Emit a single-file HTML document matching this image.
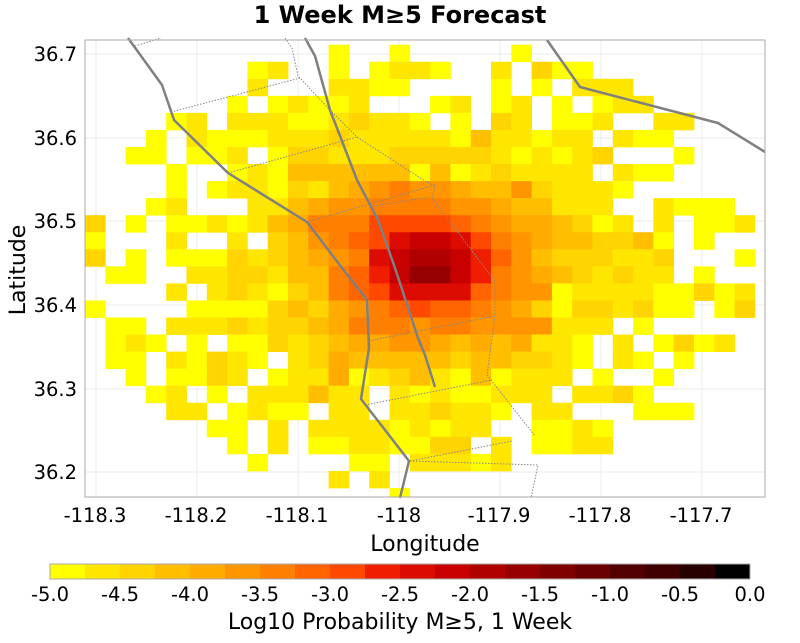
<!DOCTYPE html>
<html><head><meta charset="utf-8"><style>
html,body{margin:0;padding:0;background:#fff;}
svg{display:block;font-family:"DejaVu Sans","Liberation Sans",sans-serif;}
</style></head><body>
<svg id="s" width="800" height="643" viewBox="0 0 800 643" xmlns="http://www.w3.org/2000/svg">
<text x="400" y="23" text-anchor="middle" font-size="24" font-weight="bold">1 Week M≥5 Forecast</text>
<g stroke="#ebebeb" stroke-width="1">
<line x1="96" y1="40" x2="96" y2="497"/><line x1="197" y1="40" x2="197" y2="497"/><line x1="298" y1="40" x2="298" y2="497"/><line x1="399" y1="40" x2="399" y2="497"/><line x1="500" y1="40" x2="500" y2="497"/><line x1="601" y1="40" x2="601" y2="497"/><line x1="702" y1="40" x2="702" y2="497"/>
<line x1="85" y1="54" x2="765" y2="54"/><line x1="85" y1="138" x2="765" y2="138"/><line x1="85" y1="221" x2="765" y2="221"/><line x1="85" y1="305" x2="765" y2="305"/><line x1="85" y1="389" x2="765" y2="389"/><line x1="85" y1="472" x2="765" y2="472"/>
</g>
<g id="cells"></g>
<g fill="none" stroke="#888" stroke-width="1" stroke-dasharray="1.5,1.5">
<polyline points="135,46 161,38"/>
<polyline points="171,112 300,78"/>
<polyline points="285,38 292,48 298,76 300,78 328,108 357,137 425,181 435,186 432,198 485,268 495,281 495,316 487,375 535,436"/>
<polyline points="228,173 357,137"/>
<polyline points="307,222 435,185"/>
<polyline points="373,206 430,197"/>
<polyline points="368,341 495,316"/>
<polyline points="365,405 492,380"/>
<polyline points="410,461 538,465 531,498"/>
<polyline points="410,461 512,441"/>
</g>
<g fill="none" stroke="#808080" stroke-width="2.5" stroke-linejoin="round">
<polyline points="128,38 162,85 172,114 174,120 228,173 307,222 342,268 367,300 369,348 361,399 409,461 400,498"/>
<polyline points="305,38 315,56 330,110 357,180 378,220 395,268 418,338 425,355 435,387"/>
<polyline points="547,40 580,87 718,123 765,152"/>
</g>
<rect x="85" y="40" width="680" height="457" fill="none" stroke="#aaa" stroke-width="1"/>
<g font-size="19.5" text-anchor="end">
<text x="77" y="61">36.7</text><text x="77" y="145">36.6</text><text x="77" y="228">36.5</text><text x="77" y="312">36.4</text><text x="77" y="396">36.3</text><text x="77" y="479">36.2</text>
</g>
<g font-size="19.5" text-anchor="middle">
<text x="95" y="522">-118.3</text><text x="196" y="522">-118.2</text><text x="297" y="522">-118.1</text><text x="399" y="522">-118</text><text x="499" y="522">-117.9</text><text x="600" y="522">-117.8</text><text x="701" y="522">-117.7</text>
</g>
<text x="425" y="551" font-size="22" text-anchor="middle">Longitude</text>
<text transform="translate(25,270) rotate(-90)" font-size="22" text-anchor="middle">Latitude</text>
<g id="cb"></g>
<rect x="50" y="564" width="700" height="15" fill="none" stroke="#aaa" stroke-width="1"/>
<g font-size="19.5" text-anchor="middle">
<text x="50" y="601">-5.0</text><text x="120" y="601">-4.5</text><text x="190" y="601">-4.0</text><text x="260" y="601">-3.5</text><text x="330" y="601">-3.0</text><text x="400" y="601">-2.5</text><text x="470" y="601">-2.0</text><text x="540" y="601">-1.5</text><text x="610" y="601">-1.0</text><text x="680" y="601">-0.5</text><text x="750" y="601">0.0</text>
</g>
<text x="400" y="629" font-size="22" text-anchor="middle">Log10 Probability M≥5, 1 Week</text>
</svg>
<script>
var NS="http://www.w3.org/2000/svg";
var pal=["#ffff00","#ffe600","#ffd400","#ffbf00","#ffab00","#ff9600","#ff8000","#ff6400","#ff4800","#f01e00","#dc0c00","#c80000","#b00000","#960000","#800000","#6a0000","#520000","#3e0000","#280000","#000000"];
var map={"Y":0,"1":1,"2":2,"3":3,"4":4,"5":5,"6":6,"7":7,"8":8,"9":9,"a":10,"b":11,"c":12,"d":13};
var rows=[
"............Y..Y.....Y",
"........Y1..Y.Y11Y..1.2YY",
"........1...11YY....Y.Y.111",
".......Y.Y1YY1...Y1.Y1.Y.Y11",
"....Y1.111YY1211Y.Y.21.YY1..11",
"...Y.1YYY111211111Y311Y11.1YY",
"..YY.YY1.Y22111222221Y1Y12...Y",
"....Y..Y1Y333333Y3Y121111.1YY",
"....Y.Y11Y2134565543352111Y",
"...Y1...113455666655433111..1YYY",
"2.Y.YY1Y13466688887654432Y1.1.YY1",
"Y...1..1.235678abba865433223Y.Y",
"2.Y.YYY2123456abccb9753222112...Y",
".YY..1122133679bddb9654321211.Y",
"....1.121Y23678aaaa7655Y1111YY2Y1",
"Y....YYYY23245678776542Y2212YY.Y2",
".YY.1112122346665665555111.Y",
".Y1Y.Y.YY212344554343411Y.1.Y2Y1",
".YY.1Y21Y.12433333233221Y.1Y.Y",
"..Y.YY21.Y114Y1231Y3Y111.Y..Y",
"...Y1.Y.111311.1Y1YY111.112Y",
"....11.Y1YY.11.11211Y.11...YYY",
"......YY.1.1111Y1Y11..YY1Y",
".......Y.1.YY11YY22.1.YY11",
"........Y....YY.111Y1",
"............1.1",
"...............Y"
];
var g=document.getElementById("cells");
var cw=20.3,ch=17.05,x0=85,y0=44.7;
for(var r=0;r<rows.length;r++){for(var c=0;c<rows[r].length;c++){var k=rows[r][c];if(!(k in map))continue;
var x=x0+c*cw,y=y0+r*ch,w=cw,h=ch;if(x+w>765)w=765-x;if(y+h>497)h=497-y;if(w<=0||h<=0)continue;
var e=document.createElementNS(NS,"rect");e.setAttribute("x",x.toFixed(2));e.setAttribute("y",y.toFixed(2));e.setAttribute("width",(w+0.4).toFixed(2));e.setAttribute("height",(h+0.4).toFixed(2));e.setAttribute("fill",pal[map[k]]);g.appendChild(e);}}
var cb=document.getElementById("cb");
for(var i=0;i<20;i++){var e=document.createElementNS(NS,"rect");e.setAttribute("x",50+i*35);e.setAttribute("y",564);e.setAttribute("width",35.5);e.setAttribute("height",15);e.setAttribute("fill",pal[i]);cb.appendChild(e);}
</script>
</body></html>
